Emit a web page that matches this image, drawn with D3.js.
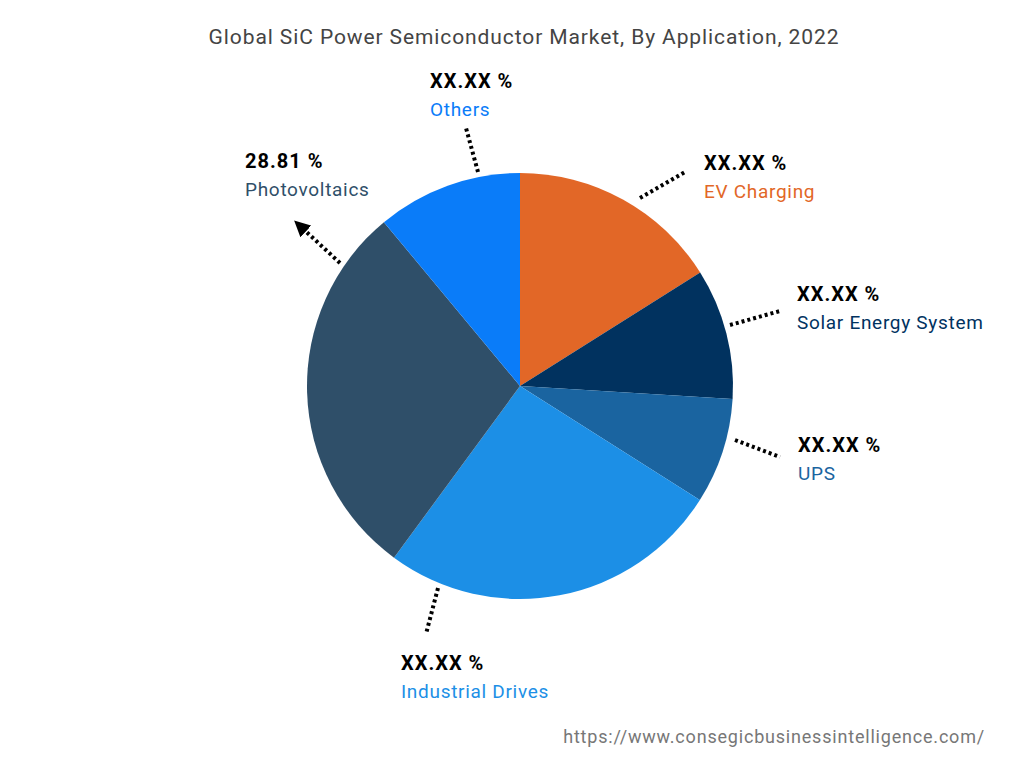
<!DOCTYPE html>
<html><head><meta charset="utf-8">
<script src="https://cdn.jsdelivr.net/npm/d3@7"></script>
<style>body{margin:0;background:#fff}text{font-family:Roboto,"Noto Sans",sans-serif}</style>
</head><body>
<svg id="chart" width="1024" height="768"></svg>
<script>
const categories = ["EV Charging", "Solar Energy System", "UPS", "Industrial Drives", "Photovoltaics", "Others"];
const shares = [16.0, 9.9, 8.0, 26.0, 28.81, 11.0];
const valueLabels = ["XX.XX %", "XX.XX %", "XX.XX %", "XX.XX %", "28.81 %", "XX.XX %"];
const colors = ["#E26727", "#01325F", "#1A64A0", "#1C8FE6", "#2F4F69", "#0A7CF9"];
// label anchor [x, baseline of value], leader [x1,y1,x2,y2]
const labelPos = [[704,170],[797,301],[798,452],[401,670],[245,168],[430,88]];
const leaders = [[640,198,685,172],[730,325,780,311],[735,440,780,457],[438,588,426,634],[340,263,300,226],[478,172,466,128]];

const svg = d3.select("#chart");
const cx = 520, cy = 386, r = 213;

svg.append("defs").append("marker")
  .attr("id", "arrow").attr("viewBox", "0 0 10 10").attr("refX", 5).attr("refY", 5)
  .attr("markerWidth", 4).attr("markerHeight", 4).attr("orient", "auto")
  .append("path").attr("d", "M0,0 L10,5 L0,10 z").attr("fill", "#000");

svg.append("text").attr("x", 524).attr("y", 44).attr("text-anchor", "middle")
  .attr("font-size", 21).attr("letter-spacing", 0.9).attr("fill", "#444")
  .text("Global SiC Power Semiconductor Market, By Application, 2022");

const pie = d3.pie().sort(null).value(d => d);
const arc = d3.arc().innerRadius(0).outerRadius(r);
svg.append("g").attr("transform", `translate(${cx},${cy})`)
  .selectAll("path").data(pie(shares)).join("path")
  .attr("d", arc).attr("fill", (d, i) => colors[i]);

svg.append("g").selectAll("line").data(leaders).join("line")
  .attr("x1", d => d[0]).attr("y1", d => d[1]).attr("x2", d => d[2]).attr("y2", d => d[3])
  .attr("stroke", "#000").attr("stroke-width", 4).attr("stroke-dasharray", "3 3")
  .attr("marker-end", (d, i) => categories[i] === "Photovoltaics" ? "url(#arrow)" : null);

const labels = svg.append("g").selectAll("g").data(categories).join("g")
  .attr("transform", (d, i) => `translate(${labelPos[i][0]},${labelPos[i][1]})`);
labels.append("text").attr("font-size", 20).attr("letter-spacing", 1).attr("font-weight", 700).attr("fill", "#000")
  .text((d, i) => valueLabels[i]);
labels.append("text").attr("y", 28).attr("font-size", 19).attr("letter-spacing", 0.7).attr("fill", (d, i) => colors[i])
  .text(d => d);

svg.append("text").attr("x", 985).attr("y", 743).attr("text-anchor", "end")
  .attr("font-size", 18).attr("letter-spacing", 0.8).attr("fill", "#777").text("https://www.consegicbusinessintelligence.com/");
</script>
</body></html>
